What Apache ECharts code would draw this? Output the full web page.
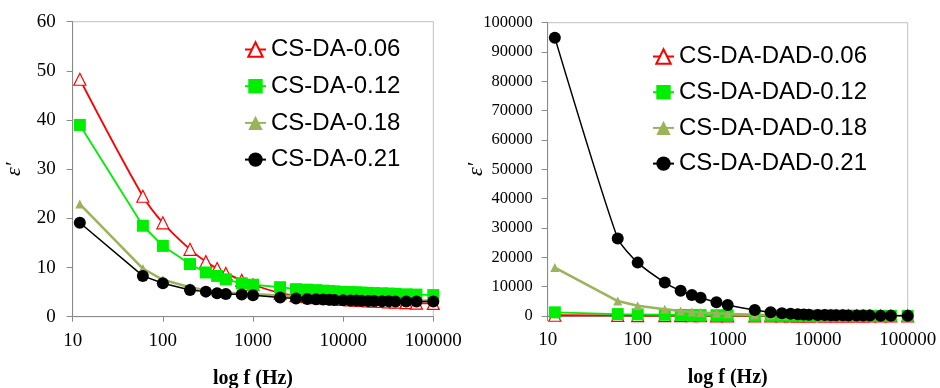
<!DOCTYPE html>
<html>
<head>
<meta charset="utf-8">
<script src="https://cdn.jsdelivr.net/npm/echarts@6/dist/echarts.min.js"></script>
<style>html,body{margin:0;padding:0;background:#fff}#c{width:940px;height:388px}</style>
</head>
<body>
<div id="c"></div>
<script>
const freq = [12, 60, 100, 200, 300, 400, 500, 750, 1000, 2000, 3000, 4000, 5000, 6000, 7000, 8000, 10000, 12000, 14000, 16000, 19000, 22000, 27000, 32000, 38000, 50000, 65000, 100000];
const leftNames = ['CS-DA-0.06', 'CS-DA-0.12', 'CS-DA-0.18', 'CS-DA-0.21'];
const rightNames = ['CS-DA-DAD-0.06', 'CS-DA-DAD-0.12', 'CS-DA-DAD-0.18', 'CS-DA-DAD-0.21'];
const leftYTicks = [0, 10, 20, 30, 40, 50, 60];
const rightYTicks = [0, 10000, 20000, 30000, 40000, 50000, 60000, 70000, 80000, 90000, 100000];
const xTicks = [10, 100, 1000, 10000, 100000];

const da006 = [48.3, 24.5, 19.1, 13.7, 11.2, 9.8, 8.8, 7.4, 6.5, 4.8, 4.3, 4.1, 3.9, 3.8, 3.7, 3.6, 3.5, 3.4, 3.35, 3.3, 3.2, 3.15, 3.1, 3.0, 2.95, 2.85, 2.75, 2.7];
const da012 = [39.0, 18.5, 14.4, 10.7, 9.0, 8.3, 7.6, 6.8, 6.5, 6.0, 5.6, 5.5, 5.4, 5.3, 5.2, 5.15, 5.05, 5.0, 4.95, 4.9, 4.85, 4.8, 4.75, 4.7, 4.65, 4.55, 4.5, 4.4];
const da018 = [22.9, 9.8, 7.5, 6.0, 5.4, 5.1, 4.9, 4.7, 4.6, 4.3, 4.1, 4.0, 3.95, 3.9, 3.85, 3.8, 3.75, 3.7, 3.65, 3.6, 3.6, 3.55, 3.5, 3.5, 3.45, 3.4, 3.35, 3.3];
const da021 = [19.1, 8.3, 6.8, 5.45, 5.1, 4.75, 4.6, 4.5, 4.35, 3.9, 3.7, 3.6, 3.55, 3.5, 3.45, 3.4, 3.35, 3.3, 3.3, 3.25, 3.2, 3.2, 3.15, 3.15, 3.1, 3.1, 3.1, 3.1];

const dad006 = [250, 180, 150, 120, 100, 90, 85, 75, 70, 55, 50, 45, 42, 40, 38, 36, 34, 32, 30, 29, 28, 27, 26, 25, 24, 23, 22, 21];
const dad012 = [1250, 650, 550, 420, 360, 320, 300, 260, 240, 190, 160, 140, 130, 120, 110, 105, 100, 95, 90, 85, 80, 78, 75, 72, 70, 66, 62, 58];
const dad018 = [16500, 5100, 3500, 2300, 1700, 1400, 1200, 900, 750, 400, 300, 250, 210, 180, 160, 150, 130, 110, 100, 90, 80, 75, 70, 65, 60, 55, 50, 45];
const dad021 = [94900, 26400, 18200, 11400, 8600, 7200, 6200, 4700, 3750, 2050, 1250, 900, 750, 620, 520, 450, 380, 330, 290, 260, 230, 200, 170, 150, 130, 110, 100, 80];

function pairs(ys) { return freq.map((f, i) => [f, ys[i]]); }

const serif = '"Liberation Serif", "Times New Roman", serif';
const sans = '"Liberation Sans", Arial, sans-serif';

const styles = [
  { color: '#ff0000', symbol: 'triangle', symbolSize: 12, fill: '#ffffff', width: 1.8 },
  { color: '#00ee00', symbol: 'rect', symbolSize: 12, fill: '#00ee00', width: 1.8 },
  { color: '#9bb35a', symbol: 'triangle', symbolSize: 9, fill: '#9bb35a', width: 2.5 },
  { color: '#000000', symbol: 'circle', symbolSize: 12, fill: '#000000', width: 1.5 }
];

function mkSeries(name, ys, idx, k, smooth) {
  const s = styles[k];
  return {
    name: name, type: 'line', xAxisIndex: idx, yAxisIndex: idx,
    data: pairs(ys), symbol: s.symbol, symbolSize: s.symbolSize, smooth: smooth,
    lineStyle: { color: s.color, width: s.width },
    itemStyle: { color: s.fill, borderColor: s.color, borderWidth: k === 0 ? 1.2 : 0 },
    emphasis: { disabled: true }, animation: false, z: 2 + k
  };
}

function xAxis(idx) {
  return {
    type: 'log', logBase: 10, min: xTicks[0], max: xTicks[xTicks.length - 1], gridIndex: idx,
    name: 'log f (Hz)', nameLocation: 'middle', nameGap: 52, nameMoveOverlap: false,
    nameTextStyle: { fontFamily: serif, fontWeight: 'bold', fontSize: 20, color: '#000' },
    axisLine: { show: true, lineStyle: { color: '#8a8a8a', width: 1 } },
    axisTick: { show: true, length: 5, lineStyle: { color: '#8a8a8a' } },
    minorTick: { show: false }, splitLine: { show: false },
    axisLabel: { fontFamily: serif, fontSize: 19, color: '#000', margin: 15, showMaxLabel: true, showMinLabel: true,
      formatter: v => String(Math.round(v)) }
  };
}

function yAxis(idx, ticks, fs, gap, margin) {
  return {
    type: 'value', gridIndex: idx, min: ticks[0], max: ticks[ticks.length - 1],
    interval: ticks[1] - ticks[0],
    name: 'ε′', nameLocation: 'middle', nameGap: gap, nameMoveOverlap: false,
    nameTextStyle: { fontFamily: serif, fontStyle: 'italic', fontSize: 22, color: '#000' },
    axisLine: { show: true, lineStyle: { color: '#8a8a8a', width: 1 } },
    axisTick: { show: true, length: 6, lineStyle: { color: '#8a8a8a' } },
    splitLine: { show: false },
    axisLabel: { fontFamily: serif, fontSize: fs, color: '#000', margin: margin, formatter: v => String(v) }
  };
}

function legend(names, left, top, gap) {
  return {
    data: names, orient: 'vertical', left: left, top: top, itemGap: gap, padding: 0,
    itemWidth: 21, itemHeight: 18, selectedMode: false,
    textStyle: { fontFamily: sans, fontSize: 24, color: '#000', lineHeight: 26 }
  };
}

const chart = echarts.init(document.getElementById('c'), null, { renderer: 'canvas' });
chart.setOption({
  animation: false,
  backgroundColor: '#ffffff',
  grid: [
    { left: 72.7, right: 506.7, top: 21.7, bottom: 71.3, show: true, borderColor: '#c0c0c0', borderWidth: 1, outerBoundsMode: 'none', containLabel: false },
    { left: 547.7, right: 32.3, top: 22.7, bottom: 72, show: true, borderColor: '#c0c0c0', borderWidth: 1, outerBoundsMode: 'none', containLabel: false }
  ],
  xAxis: [xAxis(0), xAxis(1)],
  yAxis: [yAxis(0, leftYTicks, 19, 47, 17), yAxis(1, rightYTicks, 16.5, 60, 15)],
  legend: [legend(leftNames, 244, 36.5, 10.7), legend(rightNames, 652, 43.5, 9.7)],
  series: [
    mkSeries(leftNames[0], da006, 0, 0, 0.35),
    mkSeries(leftNames[1], da012, 0, 1, false),
    mkSeries(leftNames[2], da018, 0, 2, false),
    mkSeries(leftNames[3], da021, 0, 3, false),
    mkSeries(rightNames[0], dad006, 1, 0, false),
    mkSeries(rightNames[1], dad012, 1, 1, false),
    mkSeries(rightNames[2], dad018, 1, 2, false),
    mkSeries(rightNames[3], dad021, 1, 3, 0.2)
  ]
});
</script>
</body>
</html>
